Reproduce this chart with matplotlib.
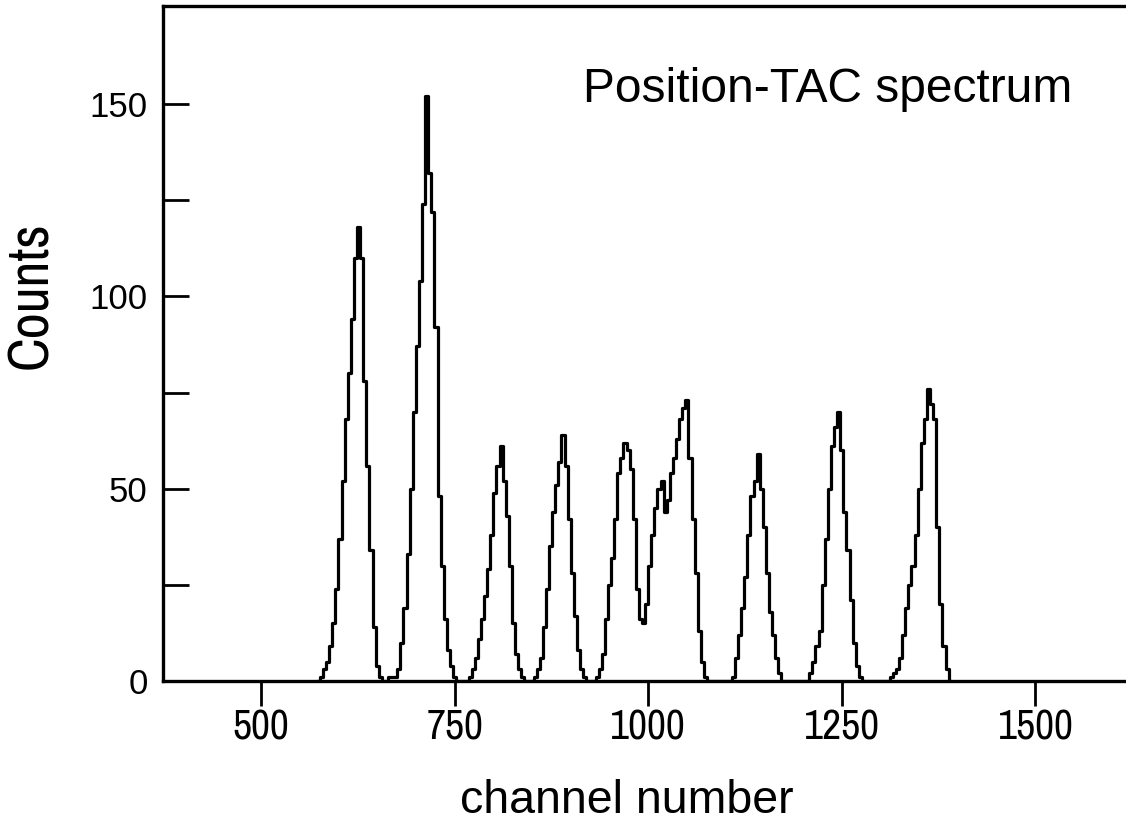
import numpy as np
import matplotlib
matplotlib.use('Agg')
import matplotlib.pyplot as plt
from matplotlib.ticker import FixedLocator

# counts per 4-channel bin, first bin centred on channel 574
first_channel = 574
bin_width = 4
counts = [
    0, 1, 3, 5, 9, 15, 24, 37, 52, 68,            # 574
    80, 94, 110, 118, 110, 78, 56, 34, 14, 4,     # 614
    1, 0, 0, 1, 1, 1, 3, 10, 19, 33,              # 654
    50, 70, 87, 104, 124, 152, 132, 122, 92, 48,  # 694
    30, 16, 8, 4, 1, 0, 0, 0, 0, 1,               # 734
    3, 6, 11, 16, 22, 29, 38, 49, 56, 61,         # 774
    52, 43, 30, 15, 7, 3, 1, 0, 0, 0,             # 814
    1, 3, 6, 14, 24, 35, 44, 51, 57, 64,          # 854
    56, 42, 28, 17, 8, 3, 1, 0, 0, 0,             # 894
    1, 3, 7, 16, 25, 32, 42, 54, 58, 62,          # 934
    60, 55, 42, 24, 16, 15, 20, 30, 38, 45,       # 974
    50, 52, 44, 47, 54, 58, 63, 68, 71, 73,       # 1014
    58, 42, 28, 13, 5, 1, 0, 0, 0, 0,             # 1054
    0, 0, 0, 0, 1, 6, 12, 19, 27, 38,             # 1094
    48, 52, 59, 50, 40, 28, 18, 12, 6, 2,         # 1134
    0, 0, 0, 0, 0, 0, 0, 0, 0, 2,                 # 1174
    5, 9, 13, 25, 37, 50, 61, 66, 70, 60,         # 1214
    44, 34, 21, 10, 4, 1, 0, 0, 0, 0,             # 1254
    0, 0, 0, 0, 0, 1, 2, 3, 6, 12,                # 1294
    19, 25, 30, 38, 50, 62, 68, 76, 72, 68,       # 1334
    40, 20, 9, 3, 0,                              # 1374
]
channels = first_channel + bin_width * np.arange(len(counts))

x_ticks = [500, 750, 1000, 1250, 1500]
y_ticks = [0, 50, 100, 150]
y_minor = [25, 75, 125]
title = 'Position-TAC spectrum'

regular = ['Liberation Sans', 'DejaVu Sans']
narrow = ['Archivo Narrow', 'Liberation Sans', 'DejaVu Sans']

fig = plt.figure(figsize=(11.26, 8.3), dpi=100)
ax = fig.add_axes([0.1448, 0.1795, 0.8552, 0.8133])

ax.step(channels, counts, where='mid', color='black', lw=2.3)

ax.set_xlim(373.5, 1617)
ax.set_ylim(0, 175.5)

ax.set_xticks(x_ticks)
ax.set_yticks(y_ticks)
ax.yaxis.set_minor_locator(FixedLocator(y_minor))
ax.tick_params(axis='x', direction='out', length=18, width=2, pad=2)
ax.tick_params(axis='y', which='both', direction='in', length=19, width=2, pad=11)
for lab in ax.get_xticklabels():
    lab.set_family(narrow)
    lab.set_fontsize(30)
for lab in ax.get_yticklabels():
    lab.set_family(regular)
    lab.set_fontsize(25)

for s in ['left', 'bottom', 'top']:
    ax.spines[s].set_linewidth(2.4)
ax.spines['right'].set_visible(False)

ax.text(0.436, 0.858, title, transform=ax.transAxes, ha='left', va='baseline',
        fontsize=34.5, family=regular)

fig.text(31 / 1126, 1 - 295 / 830, 'Counts', rotation=90, ha='center', va='center',
         fontsize=41, family=narrow)
fig.text(627 / 1126, 1 - 813 / 830, 'channel number', ha='center', va='baseline',
         fontsize=33.5, family=regular)

fig.savefig('out.png', dpi=100)
